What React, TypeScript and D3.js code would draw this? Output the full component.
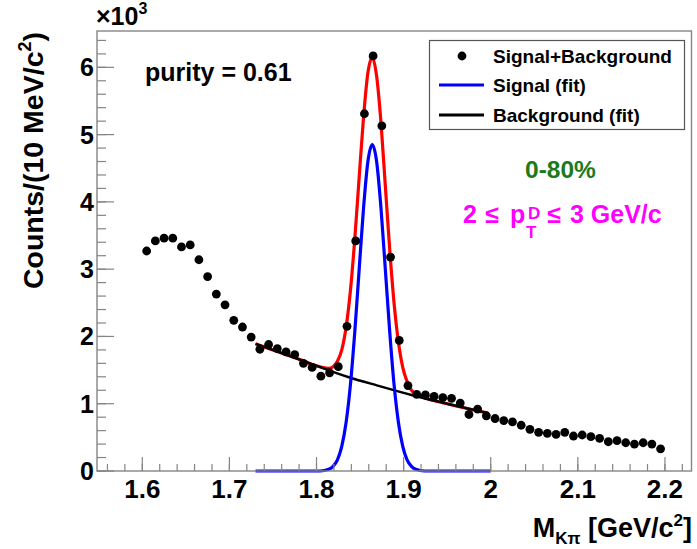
import React from "react";
import * as d3 from "d3";

// ---- data ----
const massBins = [
  1.605, 1.615, 1.625, 1.635, 1.645, 1.655, 1.665, 1.675, 1.685, 1.695,
  1.705, 1.715, 1.725, 1.735, 1.745, 1.755, 1.765, 1.775, 1.785, 1.795,
  1.805, 1.815, 1.825, 1.835, 1.845, 1.855, 1.865, 1.875, 1.885, 1.895,
  1.905, 1.915, 1.925, 1.935, 1.945, 1.955, 1.965, 1.975, 1.985, 1.995,
  2.005, 2.015, 2.025, 2.035, 2.045, 2.055, 2.065, 2.075, 2.085, 2.095,
  2.105, 2.115, 2.125, 2.135, 2.145, 2.155, 2.165, 2.175, 2.185, 2.195,
];
// counts in units of 10^3
const counts = [
  3.27, 3.42, 3.46, 3.46, 3.33, 3.36, 3.14, 2.89, 2.63, 2.47,
  2.24, 2.14, 1.99, 1.81, 1.88, 1.82, 1.77, 1.73, 1.60, 1.54,
  1.41, 1.46, 1.55, 2.15, 3.42, 5.31, 6.17, 5.13, 3.18, 1.94,
  1.27, 1.14, 1.13, 1.11, 1.09, 1.08, 1.01, 0.84, 0.92, 0.82,
  0.78, 0.75, 0.73, 0.68, 0.62, 0.575, 0.56, 0.545, 0.575, 0.52,
  0.535, 0.51, 0.485, 0.435, 0.45, 0.42, 0.40, 0.42, 0.40, 0.33,
];

// signal fit curve
const signalX = [1.73, 1.804, 1.814, 1.819, 1.824, 1.829, 1.834, 1.839, 1.844, 1.849, 1.854, 1.859, 1.864, 1.869, 1.874, 1.879, 1.884, 1.889, 1.894, 1.899, 1.904, 1.909, 1.914, 1.924, 2.0];
const signalY = [0, 0, 0.025, 0.068, 0.166, 0.366, 0.725, 1.29, 2.08, 3.0, 3.91, 4.6, 4.85, 4.6, 3.91, 3.0, 2.08, 1.29, 0.725, 0.366, 0.166, 0.068, 0.025, 0, 0];

// background fit curve
const bgX = [1.73, 1.78, 1.838, 1.87, 1.909, 1.95, 1.997];
const bgY = [1.89, 1.66, 1.39, 1.27, 1.13, 1.0, 0.86];

// total fit curve
const totalX = [1.73, 1.78, 1.804, 1.814, 1.819, 1.824, 1.829, 1.834, 1.839, 1.844, 1.849, 1.854, 1.859, 1.864, 1.869, 1.874, 1.879, 1.884, 1.889, 1.894, 1.899, 1.904, 1.909, 1.914, 1.924, 1.95, 1.997];
const totalY = [1.89, 1.66, 1.55, 1.525, 1.55, 1.63, 1.8, 2.14, 2.69, 3.46, 4.37, 5.26, 5.92, 6.15, 5.87, 5.18, 4.24, 3.3, 2.5, 1.92, 1.54, 1.33, 1.2, 1.145, 1.09, 1.0, 0.86];

const xMajorTicks = [1.6, 1.7, 1.8, 1.9, 2.0, 2.1, 2.2];
const xTickLabels = ["1.6", "1.7", "1.8", "1.9", "2", "2.1", "2.2"];
const yMajorTicks = [0, 1, 2, 3, 4, 5, 6];
const yTickLabels = ["0", "1", "2", "3", "4", "5", "6"];

const legendLabels = ["Signal+Background", "Signal (fit)", "Background (fit)"];

const W = 697;
const H = 549;
const FONT = "'Liberation Sans', Arial, Helvetica, sans-serif";

export default function App() {
  const left = 97, right = 691.5, top = 31, bottom = 471;
  const x = d3.scaleLinear().domain([1.548, 2.2305]).range([left, right]);
  const y = d3.scaleLinear().domain([0, 6.54]).range([bottom, top]);

  const xMinor = d3.range(0, 34).map((i) => 1.56 + i * 0.02).filter((v) => x(v) < right - 1);
  const yMinor = d3.range(0, 33).map((i) => i * 0.2).filter((v) => y(v) > top + 1);

  const line = d3
    .line<[number, number]>()
    .x((d) => x(d[0]))
    .y((d) => y(d[1]))
    .curve(d3.curveMonotoneX);

  const sigPts = signalX.map((v, i) => [v, signalY[i]] as [number, number]);
  const bgPts = bgX.map((v, i) => [v, bgY[i]] as [number, number]);
  const totPts = totalX.map((v, i) => [v, totalY[i]] as [number, number]);

  const frameColor = "#858585";

  return (
    <svg
      width={W}
      height={H}
      style={{ position: "absolute", left: 0, top: 0, background: "#fff" }}
      fontFamily={FONT}
      fontWeight="bold"
    >
      <rect x={0} y={0} width={W} height={H} fill="#fff" />

      {/* curves */}
      <path d={line(totPts) || ""} fill="none" stroke="#ff0000" strokeWidth={3.2} />
      <path d={line(bgPts) || ""} fill="none" stroke="#000" strokeWidth={2.4} />
      <path d={line(sigPts) || ""} fill="none" stroke="#0000ff" strokeWidth={3.2} />

      {/* data points */}
      {massBins.map((m, i) => (
        <circle key={i} cx={x(m)} cy={y(counts[i])} r={4.4} fill="#000" />
      ))}

      {/* frame */}
      <rect x={left} y={top} width={right - left} height={bottom - top} fill="none" stroke={frameColor} strokeWidth={1.4} />

      {/* x ticks */}
      {xMinor.map((v, i) => (
        <line key={"xm" + i} x1={x(v)} x2={x(v)} y1={bottom} y2={bottom - 7} stroke={frameColor} strokeWidth={1.2} />
      ))}
      {xMajorTicks.map((v, i) => (
        <g key={"xM" + i}>
          <line x1={x(v)} x2={x(v)} y1={bottom} y2={bottom - 14} stroke={frameColor} strokeWidth={1.2} />
          <text x={x(v)} y={498} textAnchor="middle" fontSize={26} fill="#000">
            {xTickLabels[i]}
          </text>
        </g>
      ))}

      {/* y ticks */}
      {yMinor.map((v, i) => (
        <line key={"ym" + i} x1={left} x2={left + 9} y1={y(v)} y2={y(v)} stroke={frameColor} strokeWidth={1.2} />
      ))}
      {yMajorTicks.map((v, i) => (
        <g key={"yM" + i}>
          <line x1={left} x2={left + 17} y1={y(v)} y2={y(v)} stroke={frameColor} strokeWidth={1.2} />
          <text x={94} y={y(v) + 9} textAnchor="end" fontSize={25} fill="#000">
            {yTickLabels[i]}
          </text>
        </g>
      ))}

      {/* x10^3 */}
      <text x={96} y={25} fontSize={25} fill="#000">
        ×10
        <tspan fontSize={16} dy={-11}>3</tspan>
      </text>

      {/* axis titles */}
      <text x={692} y={537} textAnchor="end" fontSize={27} fill="#000">
        M
        <tspan fontSize={17} dy={7}>Kπ</tspan>
        <tspan dy={-7}> [GeV/c</tspan>
        <tspan fontSize={17} dy={-11}>2</tspan>
        <tspan dy={11}>]</tspan>
      </text>
      <text transform="translate(43,32) rotate(-90)" textAnchor="end" fontSize={28.5} fill="#000">
        Counts/(10 MeV/c
        <tspan fontSize={18} dy={-12}>2</tspan>
        <tspan dy={12}>)</tspan>
      </text>

      {/* annotations */}
      <text x={145} y={81} fontSize={25} fill="#000">purity = 0.61</text>
      <text x={525} y={178} fontSize={24.5} fill="#1b7a1b">0-80%</text>
      <g fill="#ff00ff" fontSize={25}>
        <text x={463} y={223}>2</text>
        <text x={492} y={223} textAnchor="middle">≤</text>
        <text x={510} y={223}>p</text>
        <text x={528} y={219} fontSize={17}>D</text>
        <text x={526} y={238} fontSize={17}>T</text>
        <text x={554} y={223} textAnchor="middle">≤</text>
        <text x={570} y={223}>3 GeV/c</text>
      </g>

      {/* legend */}
      <rect x={429.5} y={40.5} width={255} height={89} fill="#fff" stroke="#555" strokeWidth={1.2} />
      <circle cx={462} cy={56} r={4.4} fill="#000" />
      <line x1={439} x2={484} y1={85} y2={85} stroke="#0000ff" strokeWidth={3.2} />
      <line x1={439} x2={484} y1={115} y2={115} stroke="#000" strokeWidth={3.2} />
      {legendLabels.map((t, i) => (
        <text key={t} x={493} y={[62.5, 92, 121.5][i]} fontSize={19} fill="#000">
          {t}
        </text>
      ))}
    </svg>
  );
}
